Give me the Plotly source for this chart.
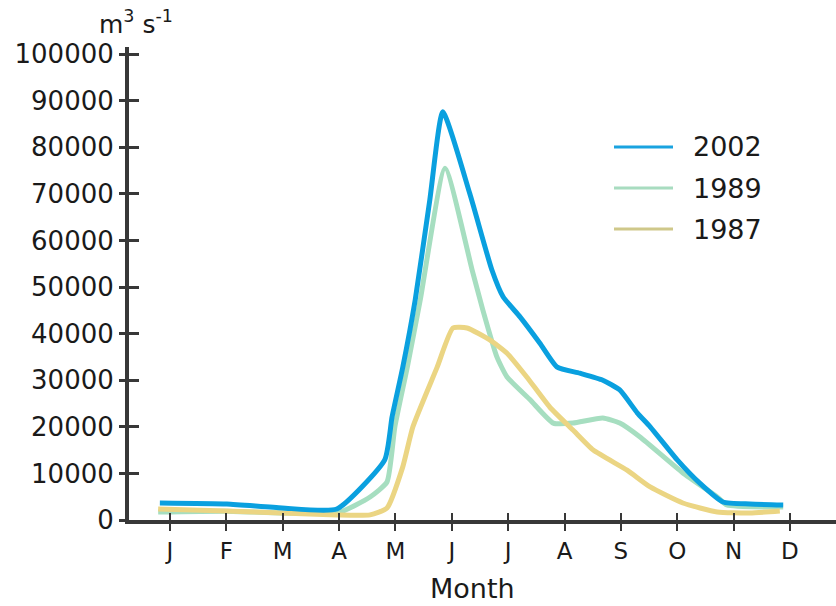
import plotly.graph_objects as go

month_labels = ["J", "F", "M", "A", "M", "J", "J", "A", "S", "O", "N", "D"]
y_ticks = [0, 10000, 20000, 30000, 40000, 50000, 60000, 70000, 80000, 90000, 100000]

# x in month units (0 = Jan tick), y in m3/s
x_2002 = [-0.18, 1.01, 1.99, 2.96, 3.81, 3.94, 4.13, 4.35, 4.61, 4.84, 5.32, 5.71, 5.91, 6.21,
          6.56, 6.87, 7.27, 7.68, 7.98, 8.29, 8.52, 9.00, 9.40, 9.81, 10.29, 10.88]
y_2002 = [3650, 3430, 2580, 2360, 12900, 22100, 32800, 47200, 68700, 87600, 70000, 53700, 47900, 43600,
          38000, 32800, 31500, 30000, 27900, 23000, 20000, 12900, 7900, 3860, 3430, 3220]

x_1989 = [-0.21, 1.01, 1.99, 3.02, 3.55, 3.85, 3.99, 4.21, 4.44, 4.88, 5.36, 5.55, 5.80, 5.98,
          6.39, 6.80, 7.15, 7.68, 7.98, 8.34, 9.10, 9.71, 9.88, 10.88]
y_1989 = [1720, 1900, 1500, 1720, 4940, 8150, 20000, 32800, 47200, 75500, 53700, 45100, 35000, 30700,
          25800, 20800, 20800, 21900, 20800, 17800, 10100, 4940, 3220, 2790]

x_1987 = [-0.21, 1.01, 1.99, 2.96, 3.55, 3.85, 4.13, 4.31, 4.74, 5.02, 5.27, 5.68, 5.98, 6.33,
          6.74, 7.15, 7.51, 8.11, 8.52, 9.10, 9.71, 10.29, 10.82]
y_1987 = [2360, 1930, 1500, 1070, 1100, 2580, 11400, 20000, 32800, 41200, 41200, 38600, 35800, 30700,
          24200, 19300, 15000, 10700, 7100, 3650, 1720, 1500, 1930]

series_names = ["2002", "1989", "1987"]
colors = {"2002": "#0AA0DF", "1989": "#A6DEC0", "1987": "#EBD583"}
legend_colors = {"2002": "#1AA3E0", "1989": "#A8DCC0", "1987": "#CFC88A"}

LEFT, TOP, W, H = 129, 47, 836, 606
BOTTOM = 520
pw = W - LEFT
ph = BOTTOM - TOP

fig = go.Figure()
for name, xs, ys in [("1989", x_1989, y_1989), ("1987", x_1987, y_1987), ("2002", x_2002, y_2002)]:
    fig.add_trace(go.Scatter(x=xs, y=ys, mode="lines", name=name, showlegend=False,
                             line=dict(color=colors[name], width=5, shape="spline", smoothing=0.5)))

# invisible trace for overlay axes (cross ticks)
fig.add_trace(go.Scatter(x=[0], y=[0], xaxis="x2", yaxis="y2", mode="markers",
                         marker=dict(opacity=0), showlegend=False, hoverinfo="skip"))

xr = [(LEFT - 170) / 56.36, (W - 170) / 56.36]
yr = [0, ph * 214.6]
axcol = "#383838"
font = "DejaVu Sans"

fig.update_layout(
    width=W, height=H, margin=dict(l=LEFT, r=0, t=TOP, b=H - BOTTOM),
    plot_bgcolor="white", paper_bgcolor="white",
    font=dict(family=font, size=24, color="#1a1a1a"),
    xaxis=dict(range=xr, tickvals=list(range(12)), ticktext=month_labels, showgrid=False,
               zeroline=False, showline=True, linecolor=axcol, linewidth=4,
               ticks="outside", ticklen=7, tickwidth=2, tickcolor=axcol,
               tickfont=dict(size=23, family=font), ticklabelstandoff=0),
    yaxis=dict(range=yr, tickvals=y_ticks, showgrid=False, zeroline=False, showline=True,
               linecolor=axcol, linewidth=4, ticks="outside", ticklen=6, tickwidth=3,
               tickcolor=axcol, tickformat="d", ticklabelstandoff=0,
               tickfont=dict(size=26, family=font)),
    xaxis2=dict(range=xr, overlaying="x", tickvals=list(range(12)), showticklabels=False,
                showgrid=False, zeroline=False, showline=False, ticks="inside", ticklen=7,
                tickwidth=2, tickcolor=axcol),
    yaxis2=dict(range=yr, overlaying="y", tickvals=y_ticks, showticklabels=False,
                showgrid=False, zeroline=False, showline=False, ticks="inside", ticklen=10,
                tickwidth=3, tickcolor=axcol),
)

def px_x(p):
    return (p - LEFT) / pw

def px_y(p):
    return (BOTTOM - p) / ph

fig.add_annotation(text="Month", xref="paper", yref="paper",
                   x=px_x(472), y=px_y(588), xanchor="center", yanchor="middle",
                   showarrow=False, font=dict(size=27, family=font, color="#1a1a1a"))

fig.add_annotation(text="m<sup>3</sup> s<sup>-1</sup>", xref="paper", yref="paper",
                   x=px_x(97), y=px_y(22), xanchor="left", yanchor="middle",
                   showarrow=False, font=dict(size=25, family=font, color="#1a1a1a"))

legend_y = [147, 188, 229]
for name, ly in zip(series_names, legend_y):
    fig.add_shape(type="line", xref="paper", yref="paper", x0=px_x(614), x1=px_x(673),
                  y0=px_y(ly), y1=px_y(ly), line=dict(color=legend_colors[name], width=3))
    fig.add_annotation(text=name, xref="paper", yref="paper", x=px_x(691), y=px_y(ly),
                       xanchor="left", yanchor="middle", showarrow=False,
                       font=dict(size=27, family=font, color="#1a1a1a"))

fig.write_html("out.html")
